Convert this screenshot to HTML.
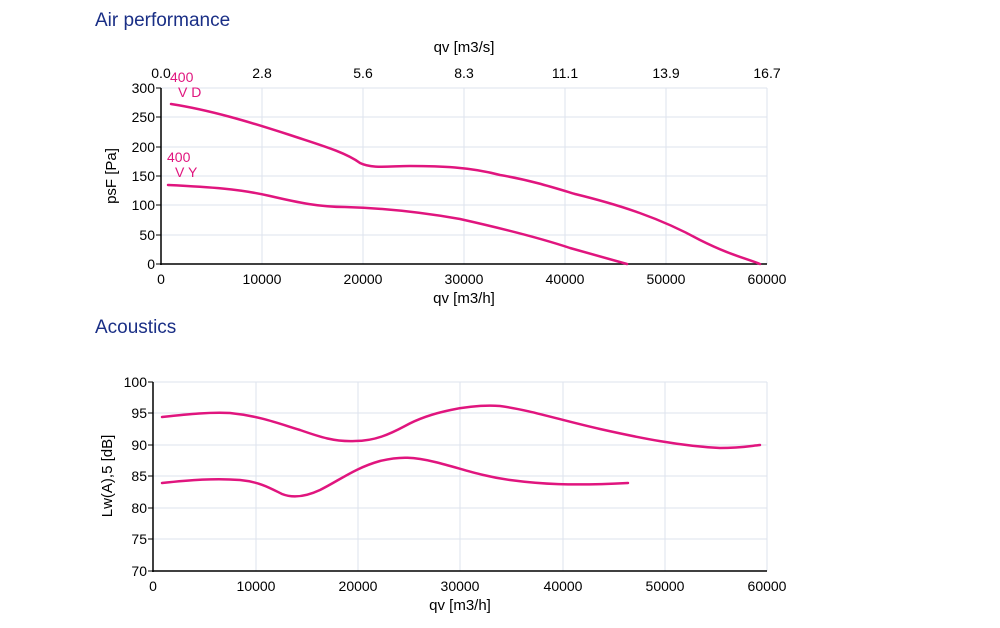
<!DOCTYPE html>
<html><head><style>
body{margin:0;background:#fff;width:1000px;height:623px;overflow:hidden;font-family:"Liberation Sans",sans-serif}
</style></head><body>
<svg width="1000" height="623" xmlns="http://www.w3.org/2000/svg" font-family="Liberation Sans, sans-serif">
<text x="95" y="26" font-size="19" fill="#1a2f86">Air performance</text>
<text x="95" y="333" font-size="19" fill="#1a2f86">Acoustics</text>
<!-- top grid -->
<g stroke="#dde3ee" stroke-width="1">
<line x1="262" y1="88" x2="262" y2="264"/><line x1="363" y1="88" x2="363" y2="264"/><line x1="464" y1="88" x2="464" y2="264"/><line x1="565" y1="88" x2="565" y2="264"/><line x1="666" y1="88" x2="666" y2="264"/><line x1="767" y1="88" x2="767" y2="264"/>
<line x1="161" y1="88" x2="767" y2="88"/><line x1="161" y1="117" x2="767" y2="117"/><line x1="161" y1="147" x2="767" y2="147"/><line x1="161" y1="176" x2="767" y2="176"/><line x1="161" y1="205" x2="767" y2="205"/><line x1="161" y1="235" x2="767" y2="235"/>
</g>
<g stroke="#000" stroke-width="1.5"><line x1="161" y1="88" x2="161" y2="265"/><line x1="160" y1="264" x2="767" y2="264"/></g>
<g stroke="#000" stroke-width="1"><line x1="156" y1="88" x2="161" y2="88"/><line x1="156" y1="117" x2="161" y2="117"/><line x1="156" y1="147" x2="161" y2="147"/><line x1="156" y1="176" x2="161" y2="176"/><line x1="156" y1="205" x2="161" y2="205"/><line x1="156" y1="235" x2="161" y2="235"/><line x1="156" y1="264" x2="161" y2="264"/></g>
<g font-size="14" text-anchor="end" fill="#000">
<text x="155" y="93">300</text><text x="155" y="122">250</text><text x="155" y="152">200</text><text x="155" y="181">150</text><text x="155" y="210">100</text><text x="155" y="240">50</text><text x="155" y="269">0</text>
</g>
<g font-size="14" text-anchor="middle">
<text x="161" y="284">0</text><text x="262" y="284">10000</text><text x="363" y="284">20000</text><text x="464" y="284">30000</text><text x="565" y="284">40000</text><text x="666" y="284">50000</text><text x="767" y="284">60000</text>
<text x="161" y="78">0.0</text><text x="262" y="78">2.8</text><text x="363" y="78">5.6</text><text x="464" y="78">8.3</text><text x="565" y="78">11.1</text><text x="666" y="78">13.9</text><text x="767" y="78">16.7</text>
<text x="464" y="303" font-size="15">qv [m3/h]</text><text x="464" y="52" font-size="15">qv [m3/s]</text>
</g>
<text transform="translate(116,176) rotate(-90)" font-size="15" text-anchor="middle">psF [Pa]</text>
<g font-size="14" fill="#e0157e"><text x="170" y="82">400</text><text x="178" y="97">V D</text><text x="167" y="162">400</text><text x="175" y="177">V Y</text></g>
<g fill="none" stroke="#e0157e" stroke-width="2.5" stroke-linejoin="round" stroke-linecap="round">
<path d="M171,104 C210,110 250,122 290,135 C320,145 345,152 360,163 C372,169 390,166 410,166 C440,166 470,167 500,175 C530,180 555,188 575,194 C620,205 660,218 700,240 C730,255 745,258 760,264"/>
<path d="M168,185 C210,187 240,189 270,196 C300,203 320,207 345,207 C380,208 420,212 460,219 C500,228 540,238 570,248 L627,264"/>
</g>
<!-- bottom -->
<g stroke="#dde3ee" stroke-width="1">
<line x1="256" y1="382" x2="256" y2="571"/><line x1="358" y1="382" x2="358" y2="571"/><line x1="460" y1="382" x2="460" y2="571"/><line x1="563" y1="382" x2="563" y2="571"/><line x1="665" y1="382" x2="665" y2="571"/><line x1="767" y1="382" x2="767" y2="571"/>
<line x1="153" y1="382" x2="767" y2="382"/><line x1="153" y1="413" x2="767" y2="413"/><line x1="153" y1="445" x2="767" y2="445"/><line x1="153" y1="476" x2="767" y2="476"/><line x1="153" y1="508" x2="767" y2="508"/><line x1="153" y1="539" x2="767" y2="539"/>
</g>
<g stroke="#000" stroke-width="1.5"><line x1="153" y1="382" x2="153" y2="572"/><line x1="152" y1="571" x2="767" y2="571"/></g>
<g stroke="#000" stroke-width="1"><line x1="148" y1="382" x2="153" y2="382"/><line x1="148" y1="413" x2="153" y2="413"/><line x1="148" y1="445" x2="153" y2="445"/><line x1="148" y1="476" x2="153" y2="476"/><line x1="148" y1="508" x2="153" y2="508"/><line x1="148" y1="539" x2="153" y2="539"/><line x1="148" y1="571" x2="153" y2="571"/></g>
<g font-size="14" text-anchor="end">
<text x="147" y="387">100</text><text x="147" y="418">95</text><text x="147" y="450">90</text><text x="147" y="481">85</text><text x="147" y="513">80</text><text x="147" y="544">75</text><text x="147" y="576">70</text>
</g>
<g font-size="14" text-anchor="middle">
<text x="153" y="591">0</text><text x="256" y="591">10000</text><text x="358" y="591">20000</text><text x="460" y="591">30000</text><text x="563" y="591">40000</text><text x="665" y="591">50000</text><text x="767" y="591">60000</text>
<text x="460" y="610" font-size="15">qv [m3/h]</text>
</g>
<text transform="translate(112,476) rotate(-90)" font-size="15" text-anchor="middle">Lw(A),5 [dB]</text>
<g fill="none" stroke="#e0157e" stroke-width="2.5" stroke-linejoin="round" stroke-linecap="round">
<path d="M162,417 C190,414 210,412 230,413 C260,416 280,424 300,430 C320,437 335,442 355,441 C375,441 390,434 405,426 C430,412 470,404 500,406 C530,410 560,420 600,429 C640,438 680,446 720,448 C740,448 750,446 760,445"/>
<path d="M162,483 C190,480 215,478 240,480 C260,482 270,488 282,494 C292,498 305,497 320,490 C340,480 355,468 380,461 C400,456 415,457 435,462 C460,468 480,476 510,480 C540,484 570,486 628,483"/>
</g>
</svg>
</body></html>
